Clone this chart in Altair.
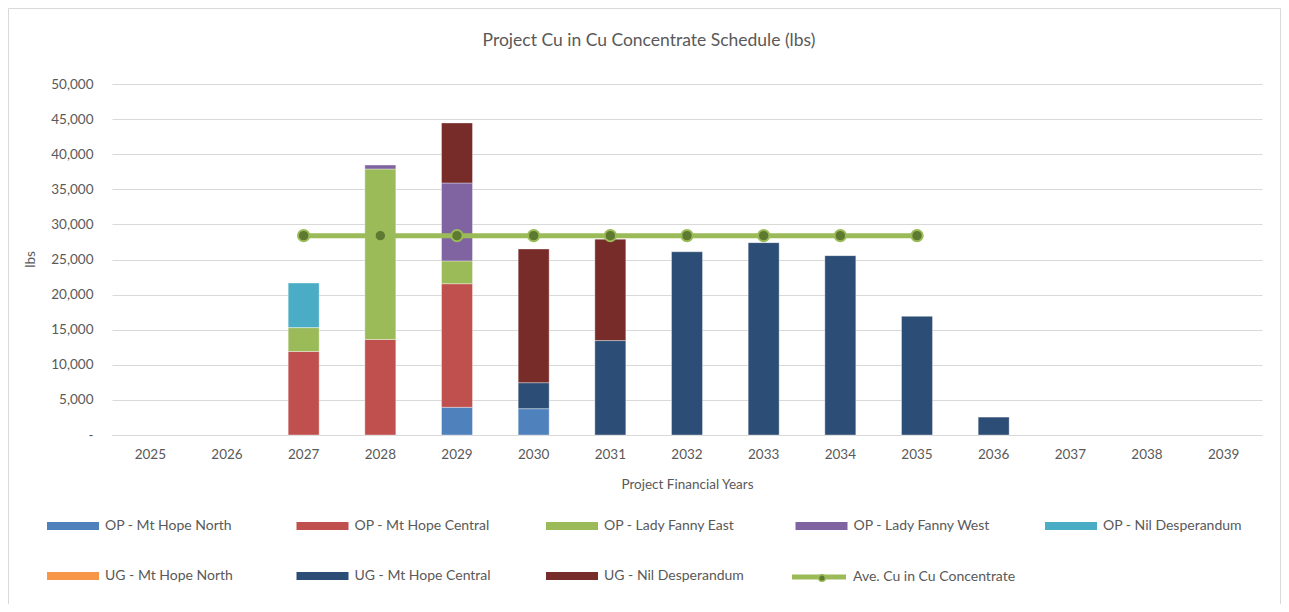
import altair as alt
import pandas as pd

years = ["2025", "2026", "2027", "2028", "2029", "2030", "2031", "2032",
         "2033", "2034", "2035", "2036", "2037", "2038", "2039"]

series = ["OP - Mt Hope North", "OP - Mt Hope Central", "OP - Lady Fanny East",
          "OP - Lady Fanny West", "OP - Nil Desperandum", "UG - Mt Hope North",
          "UG - Mt Hope Central", "UG - Nil Desperandum"]
colors = ["#4F81BD", "#C0504D", "#9BBB59", "#8064A2", "#4BACC6", "#F79646",
          "#2C4D75", "#772C2A"]

op_mhn = [0, 0, 0, 0, 3950, 3750, 0, 0, 0, 0, 0, 0, 0, 0, 0]
op_mhc = [0, 0, 11900, 13600, 17600, 0, 0, 0, 0, 0, 0, 0, 0, 0, 0]
op_lfe = [0, 0, 3400, 24300, 3250, 0, 0, 0, 0, 0, 0, 0, 0, 0, 0]
op_lfw = [0, 0, 0, 550, 11100, 0, 0, 0, 0, 0, 0, 0, 0, 0, 0]
op_nil = [0, 0, 6350, 0, 0, 0, 0, 0, 0, 0, 0, 0, 0, 0, 0]
ug_mhn = [0, 0, 0, 0, 0, 0, 0, 0, 0, 0, 0, 0, 0, 0, 0]
ug_mhc = [0, 0, 0, 0, 0, 3700, 13450, 26100, 27400, 25550, 16900, 2550, 0, 0, 0]
ug_nil = [0, 0, 0, 0, 8550, 19050, 14450, 0, 0, 0, 0, 0, 0, 0, 0]

avg_name = "Ave. Cu in Cu Concentrate"
avg_years = ["2027", "2028", "2029", "2030", "2031", "2032", "2033", "2034", "2035"]
avg_vals = [28400, 28400, 28400, 28400, 28400, 28400, 28400, 28400, 28400]

y_ticks = [0, 5000, 10000, 15000, 20000, 25000, 30000, 35000, 40000, 45000, 50000]

all_vals = [op_mhn, op_mhc, op_lfe, op_lfw, op_nil, ug_mhn, ug_mhc, ug_nil]
rows = []
for i, (name, vals) in enumerate(zip(series, all_vals)):
    for yr, v in zip(years, vals):
        if v > 0:
            rows.append({"year": yr, "series": name, "order": i, "lbs": v})
bars_df = pd.DataFrame(rows)
avg_df = pd.DataFrame({"year": avg_years, "lbs": avg_vals,
                       "name": [avg_name] * len(avg_years),
                       "name2": [avg_name] * len(avg_years)})

TXT = "#595959"
FONT = "Lato"

x_enc = alt.X("year:N", scale=alt.Scale(domain=years, paddingInner=0.596, paddingOuter=0.298),
              axis=alt.Axis(title="Project Financial Years", labelAngle=0, ticks=False,
                            domainColor="#D9D9D9", labelPadding=12, titleY=49,
                            titleBaseline="middle"))
y_enc = alt.Y("lbs:Q", scale=alt.Scale(domain=[0, 50000], nice=False),
              axis=alt.Axis(title="lbs", values=y_ticks, ticks=False, domain=False,
                            gridColor="#D9D9D9", labelPadding=19, labelOverlap=False,
                            labelExpr="datum.value == 0 ? '-' : format(datum.value, ',')",
                            titleX=-82, titleY=175, titleBaseline="middle"))

bar_legend = alt.Legend(title=None, orient="none", legendX=-68, legendY=435, columns=5,
                        direction="horizontal",
                        symbolType="M-1,-1H12V1H-1Z", symbolSize=64,
                        symbolStrokeWidth=0, labelOffset=47, columnPadding=48.5,
                        rowPadding=36, gridAlign="all", labelFontSize=14, padding=0)

bars = alt.Chart(bars_df).mark_bar(stroke="white", strokeWidth=0.6, strokeOpacity=0.6).encode(
    x=x_enc,
    y=y_enc,
    color=alt.Color("series:N", scale=alt.Scale(domain=series, range=colors), legend=bar_legend),
    order=alt.Order("order:Q", sort="ascending"),
)

line = alt.Chart(avg_df).mark_line(strokeWidth=5).encode(
    x=x_enc,
    y=y_enc,
    stroke=alt.Stroke("name:N", scale=alt.Scale(range=["#9BBB59"]),
                      legend=alt.Legend(title=None, orient="none", legendX=677, legendY=486,
                                        symbolType="M-1,0H12.5", symbolSize=64,
                                        symbolStrokeWidth=5, labelOffset=50,
                                        labelFontSize=14, labelLimit=300, padding=0)),
)

points = alt.Chart(avg_df).mark_point(filled=True, size=130, stroke="#9BBB59",
                                      strokeWidth=2, opacity=1).encode(
    x=x_enc,
    y=y_enc,
    fill=alt.Fill("name2:N", scale=alt.Scale(range=["#5E7A31"]),
                  legend=alt.Legend(title=None, orient="none", legendX=705, legendY=489,
                                    symbolType="circle", symbolSize=45,
                                    symbolStrokeColor="#9BBB59", symbolStrokeWidth=1.5,
                                    labelExpr="''", padding=0)),
)

border = alt.Chart(pd.DataFrame({"k": [0]})).mark_rect(
    fill="transparent", stroke="#D9D9D9", strokeWidth=1).encode(
    x=alt.value(-103.5), x2=alt.value(1168.5), y=alt.value(-75.5), y2=alt.value(540))

chart = alt.layer(border, bars, line, points).resolve_scale(
    color="independent", stroke="independent", fill="independent"
).properties(
    width=1150, height=351,
    autosize=alt.AutoSizeParams(type="none"),
    padding={"left": 104, "top": 76, "right": 19, "bottom": 169},
    title=alt.TitleParams("Project Cu in Cu Concentrate Schedule (lbs)", fontSize=17.5,
                          font=FONT, color=TXT, fontWeight="normal", anchor="middle",
                          baseline="bottom", dx=-38, dy=59.5, offset=0),
).configure_axis(
    labelFont=FONT, titleFont=FONT, labelColor=TXT, titleColor=TXT,
    labelFontSize=13.5, titleFontSize=13.5, titleFontWeight="normal",
).configure_legend(
    labelFont=FONT, labelColor=TXT,
).configure_view(stroke="transparent")

chart.save("out.html", embed_options={"renderer": "svg", "actions": False})
